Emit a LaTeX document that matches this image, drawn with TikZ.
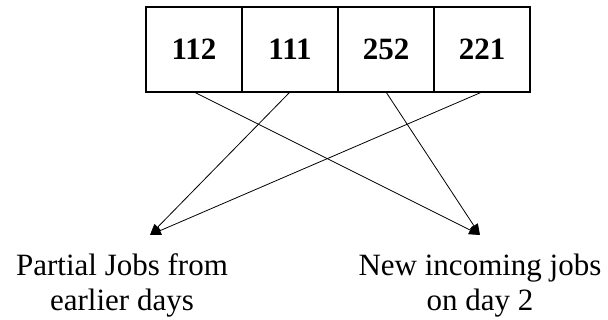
\documentclass[tikz,border=0pt]{standalone}
\usepackage{fontspec}
\setmainfont{Liberation Serif}
\usetikzlibrary{positioning,arrows.meta}
\begin{document}
\begin{tikzpicture}[x=1pt,y=-1pt,
  >={Triangle[length=11pt,width=9pt]},
  cell/.style={draw,line width=1.4pt,minimum width=96pt,minimum height=85pt,
    inner sep=0pt,outer sep=0pt,font=\fontsize{31}{35}\selectfont\bfseries},
  lbl/.style={align=center,inner sep=0pt,font=\fontsize{31}{35}\selectfont},
  link/.style={->,line width=0.8pt}]
\useasboundingbox (0,0) rectangle (608,320);
% job boxes
\node[cell] (c1) at (194,49.5) {112};
\node[cell,right=0pt of c1] (c2) {111};
\node[cell,right=0pt of c2] (c3) {252};
\node[cell,right=0pt of c3] (c4) {221};
% labels
\node[lbl] (old) at (122,285.5) {Partial Jobs from\\earlier days};
\node[lbl] (new) at (480,285.5) {New incoming jobs\\on day 2};
\coordinate (tipold) at (150,235);
\coordinate (tipnew) at (480,235);
\draw[link] (c1.south) -- (tipnew);
\draw[link] (c3.south) -- (tipnew);
\draw[link] (c2.south) -- (tipold);
\draw[link] (c4.south) -- (tipold);
\end{tikzpicture}
\end{document}
